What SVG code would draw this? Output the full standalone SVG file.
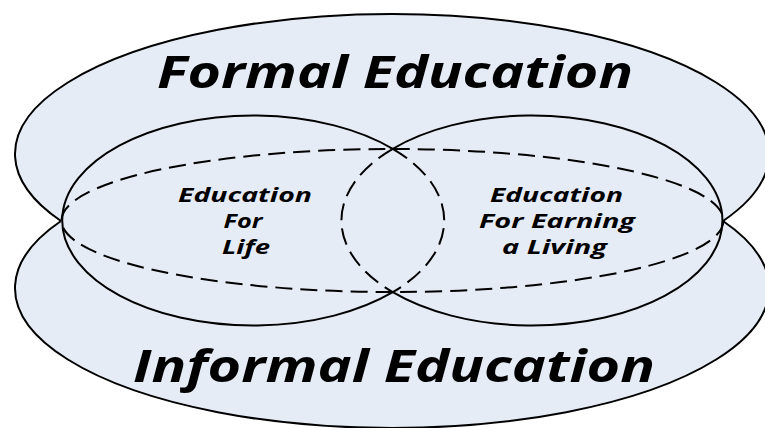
<svg xmlns="http://www.w3.org/2000/svg" width="765" height="428" viewBox="0 0 765 428">
<style>
.fill{fill:#e6ecf6;stroke:none}
.line{fill:none;stroke:#000;stroke-width:2}
.dash{fill:none;stroke:#000;stroke-width:2;stroke-dasharray:17 8}
.big{font-family:"Open Sans","Noto Sans",sans-serif;font-weight:bold;font-style:italic;font-size:44px;fill:#000;text-anchor:middle}
.small{font-family:"Open Sans","Noto Sans",sans-serif;font-weight:bold;font-style:italic;font-size:19px;fill:#000;text-anchor:middle}
</style>
<rect width="765" height="428" fill="#fff"/>
<g id="formal">
<path class="fill" d="M61,221 A377,140 0 1 1 723,221 Z"/>
<path class="line" d="M61,221 A377,140 0 1 1 723,221"/>
<text class="big" x="395" y="88" textLength="476" lengthAdjust="spacingAndGlyphs">Formal Education</text>
</g>
<g id="informal">
<path class="fill" d="M723,221 A377,140 0 1 1 61,221 Z"/>
<path class="line" d="M723,221 A377,140 0 1 1 61,221"/>
<text class="big" x="394" y="382" textLength="522" lengthAdjust="spacingAndGlyphs">Informal Education</text>
</g>
<g id="overlap">
<ellipse class="dash" cx="392.5" cy="220.5" rx="331" ry="71.5"/>
</g>
<g id="life">
<path class="line" d="M392.75,148.8 A191,105 0 1 0 392.75,292.2"/>
<path class="dash" d="M392.75,148.8 A191,105 0 0 1 392.75,292.2"/>
<text class="small" x="245" y="202" textLength="134" lengthAdjust="spacingAndGlyphs">Education</text>
<text class="small" x="243" y="228" textLength="39" lengthAdjust="spacingAndGlyphs">For</text>
<text class="small" x="246" y="254" textLength="48" lengthAdjust="spacingAndGlyphs">Life</text>
</g>
<g id="earning">
<path class="line" d="M392.75,148.8 A190.5,105 0 1 1 392.75,292.2"/>
<path class="dash" d="M392.75,148.8 A190.5,105 0 0 0 392.75,292.2"/>
<text class="small" x="556.5" y="202" textLength="133" lengthAdjust="spacingAndGlyphs">Education</text>
<text class="small" x="557" y="228" textLength="156" lengthAdjust="spacingAndGlyphs">For Earning</text>
<text class="small" x="554.5" y="254" textLength="105" lengthAdjust="spacingAndGlyphs">a Living</text>
</g>
<g id="connectors"/>
</svg>
